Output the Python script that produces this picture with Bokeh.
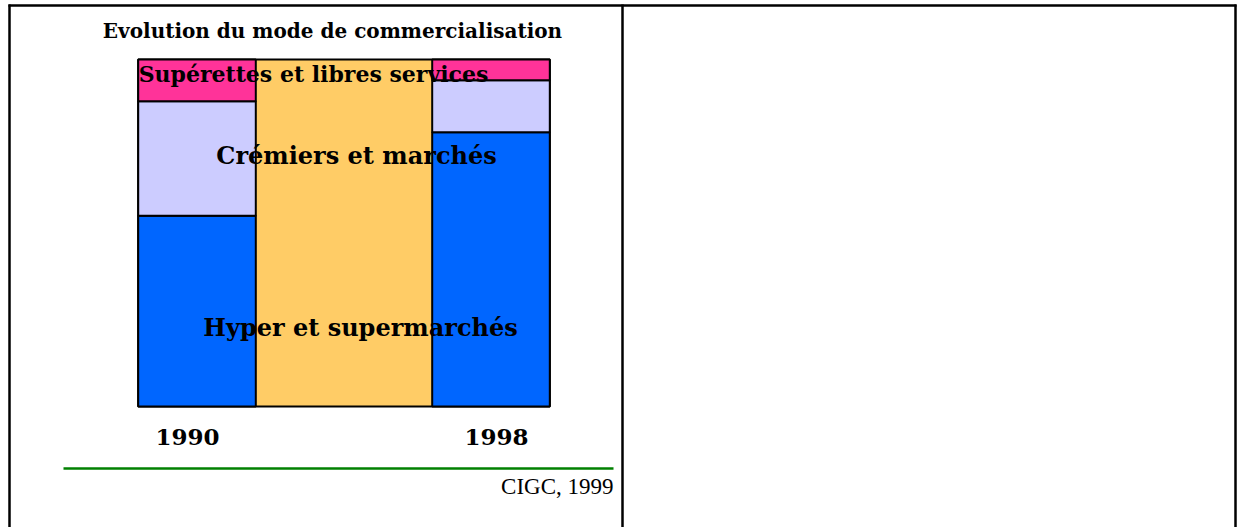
from bokeh.plotting import figure
from bokeh.models import Range1d, ColumnDataSource
from bokeh.embed import file_html
from bokeh.resources import INLINE
from bokeh.core.properties import value

# ---- data ----
years = ["1990", "1998"]
year_pos = [0.0, 1.0]
hyper = [55, 79]
cremiers = [33, 15]
superettes = [12, 6]
series_keys = ["hyper", "cremiers", "superettes"]
series_names = ["Hyper et supermarchés", "Crémiers et marchés", "Supérettes et libres services"]
colors = ["#0066FF", "#CCCCFF", "#FF3399"]
title_text = "Evolution du mode de commercialisation"
source_text = "CIGC, 1999"

# ---- layout (canvas pixels) ----
W, H = 1237, 527
bar_w = 0.4
px_per_x = 294.0
x0_px = 196.5          # canvas x of first bar centre
px_per_y = 3.47
y0_px = 406.0          # canvas y of value 0

x_start = -x0_px / px_per_x
x_end = (W - x0_px) / px_per_x
y_start = -(H - y0_px) / px_per_y
y_end = y0_px / px_per_y

p = figure(width=W, height=H, x_range=Range1d(x_start, x_end), y_range=Range1d(y_start, y_end),
           output_backend="svg", toolbar_location=None, min_border=0,
           x_axis_type=None, y_axis_type=None)
p.grid.visible = False
p.outline_line_color = None
p.background_fill_color = "white"
p.border_fill_color = "white"
p.extra_x_ranges = {"px": Range1d(0, W)}
p.extra_y_ranges = {"px": Range1d(H, 0)}

src = ColumnDataSource(dict(x=year_pos, hyper=hyper, cremiers=cremiers, superettes=superettes))
totals = [a + b + c for a, b, c in zip(hyper, cremiers, superettes)]

# plot area background (between bars)
p.quad(left=[min(year_pos) - bar_w / 2], right=[max(year_pos) + bar_w / 2],
       bottom=[0], top=[max(totals)], fill_color="#FFCC66", line_color="black", line_width=2)

p.vbar_stack(series_keys, x="x", width=bar_w, color=colors, source=src,
             line_color="black", line_width=2)

# ---- decorations (canvas px) ----
seg_x0 = [8, 9, 1235, 622, 63]
seg_y0 = [5, 4, 4, 4, 468]
seg_x1 = [1236, 9, 1235, 622, 613]
seg_y1 = [5, H, H, H, 468]
seg_col = ["black", "black", "black", "black", "#008000"]
p.segment(x0=seg_x0, y0=seg_y0, x1=seg_x1, y1=seg_y1, line_color=seg_col, line_width=2.5,
          x_range_name="px", y_range_name="px")

serif_b = value("DejaVu Serif")
p.text(x=[332], y=[30], text=[title_text], text_font=serif_b, text_font_style="bold",
       text_font_size="20px", text_align="center", text_baseline="middle", text_color="black",
       x_range_name="px", y_range_name="px")

p.text(x=[313, 356, 360], y=[73, 155, 327], text=series_names[::-1], text_font=serif_b,
       text_font_style="bold", text_font_size=["22px", "24px", "24px"], text_align="center",
       text_baseline="middle", text_color="black", x_range_name="px", y_range_name="px")

p.text(x=[187, 496], y=[436, 436], text=years, text_font=serif_b, text_font_style="bold",
       text_font_size="23px", text_align="center", text_baseline="middle", text_color="black",
       x_range_name="px", y_range_name="px")

p.text(x=[613], y=[486], text=[source_text], text_font=value("Liberation Serif"),
       text_font_size="23px", text_align="right", text_baseline="middle", text_color="black",
       x_range_name="px", y_range_name="px")

open("out.html", "w").write(file_html(p, INLINE))
